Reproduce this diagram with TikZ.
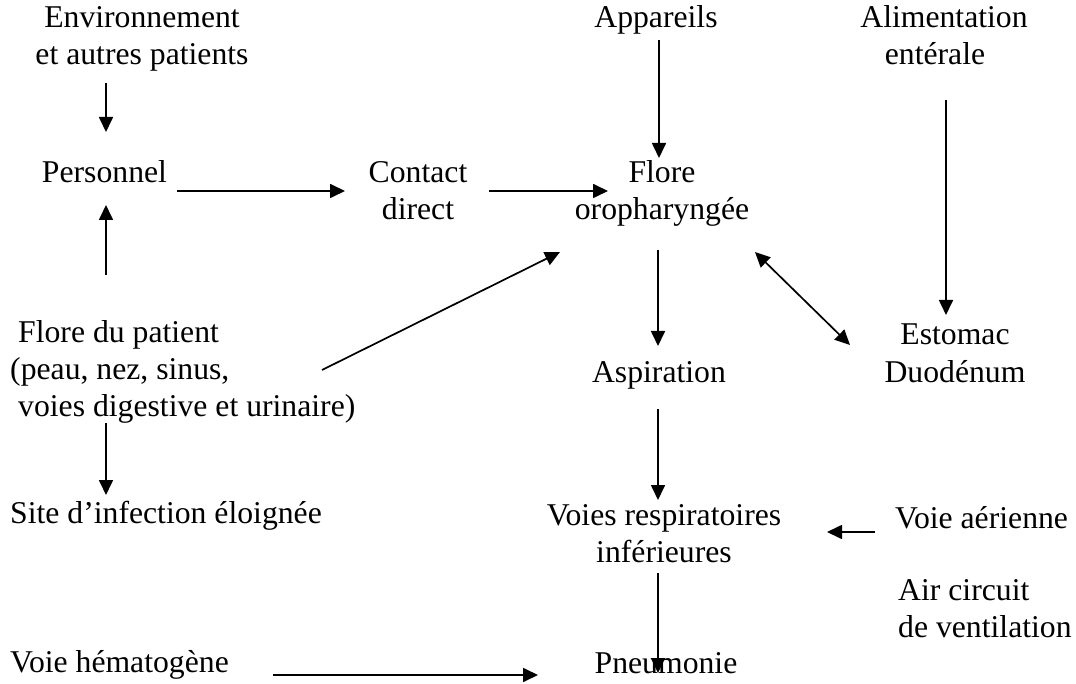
\documentclass[tikz,border=0pt]{standalone}
\usepackage{fontspec}
\setmainfont{Liberation Serif}
\usetikzlibrary{arrows.meta}
\begin{document}
\begin{tikzpicture}[x=1pt,y=-1pt,
  lbl/.style={inner sep=0pt, anchor=base, font=\fontsize{31.7}{37}\selectfont, align=center},
  lbll/.style={lbl, anchor=base west, align=left},
  arr/.style={line width=1.7pt, -{Triangle[length=15pt,width=14pt]}},
  darr/.style={line width=1.7pt, {Triangle[length=15pt,width=14pt]}-{Triangle[length=15pt,width=14pt]}}]
\useasboundingbox (0,0) rectangle (1076,684);
% text nodes (multi-line nodes: base = baseline of last line)
\node[lbl] (env) at (142,65) {Environnement\\et autres patients};
\node[lbl] (pers) at (104.5,183) {Personnel};
\node[lbl] (cont) at (418,220) {Contact\\direct};
\node[lbl] (flo) at (662,220) {Flore\\oropharyngée};
\node[lbl] (app) at (656,28) {Appareils};
\node[lbl] (alim) at (944,65) {Alimentation\\entérale\hspace*{18pt}};
\node[lbl] (est) at (955,382) {Estomac\\Duodénum};
\node[lbl] (asp) at (659,382) {Aspiration};
\node[lbll] (fdp) at (10,417) {\hspace*{8pt}Flore du patient\\(peau, nez, sinus,\\\hspace*{8pt}voies digestive et urinaire)};
\node[lbll] (site) at (10,523) {Site d’infection éloignée};
\node[lbl] (voies) at (664,562) {Voies respiratoires\\inférieures};
\node[lbll] (vaer) at (895,528) {Voie aérienne};
\node[lbll] (air) at (898,637) {Air circuit\\de ventilation};
\node[lbl] (pneu) at (666,673) {Pneumonie};
\node[lbll] (hema) at (10,672) {Voie hématogène};
% connector end points
\coordinate (envS) at (106,83);   \coordinate (persN) at (106,132);
\coordinate (persE) at (177,191); \coordinate (contW) at (345,191);
\coordinate (contE) at (489,191); \coordinate (floW) at (608,191);
\coordinate (appS) at (659,40);   \coordinate (floN) at (659,158);
\coordinate (alimS) at (946,100); \coordinate (estN) at (946,315);
\coordinate (fdpN) at (106,275);  \coordinate (persS) at (106,205);
\coordinate (fdpE) at (322,370);  \coordinate (floSW) at (560,252);
\coordinate (floS) at (658,250);  \coordinate (aspN) at (658,346);
\coordinate (floSE) at (755,252); \coordinate (estW) at (850,345);
\coordinate (fdpS) at (106,423);  \coordinate (siteN) at (106,495);
\coordinate (aspS) at (658,409);  \coordinate (voiesN) at (658,500);
\coordinate (vaerW) at (875,532); \coordinate (voiesE) at (827,532);
\coordinate (voiesS) at (658,573);\coordinate (pneuN) at (658,673);
\coordinate (hemaE) at (273,675); \coordinate (pneuW) at (538,675);
% connectors
\draw[arr] (envS) -- (persN);
\draw[arr] (persE) -- (contW);
\draw[arr] (contE) -- (floW);
\draw[arr] (appS) -- (floN);
\draw[arr] (alimS) -- (estN);
\draw[arr] (fdpN) -- (persS);
\draw[arr] (fdpE) -- (floSW);
\draw[arr] (floS) -- (aspN);
\draw[darr] (floSE) -- (estW);
\draw[arr] (fdpS) -- (siteN);
\draw[arr] (aspS) -- (voiesN);
\draw[arr] (vaerW) -- (voiesE);
\draw[arr] (voiesS) -- (pneuN);
\draw[arr] (hemaE) -- (pneuW);
\end{tikzpicture}
\end{document}
